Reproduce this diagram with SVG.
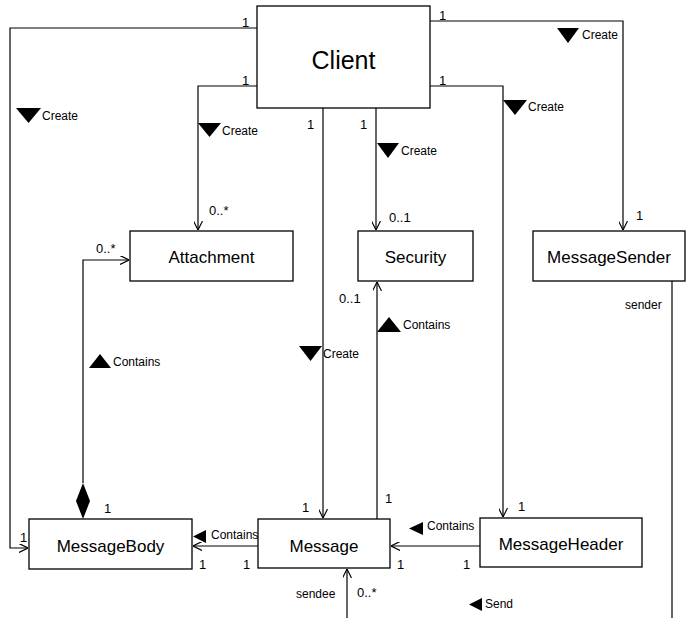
<svg xmlns="http://www.w3.org/2000/svg" width="687" height="618" viewBox="0 0 687 618">
<style>
.box{fill:#fff;stroke:#000;stroke-width:1.3}
.ln{fill:none;stroke:#000;stroke-width:1.2}
.cls{font-family:"Liberation Sans",Arial,sans-serif;font-size:17px;text-anchor:middle;fill:#000}
.t{font-family:"Liberation Sans",Arial,sans-serif;font-size:12px;fill:#000}
.m{font-family:"Liberation Sans",Arial,sans-serif;font-size:13px;fill:#000}
</style>
<defs>
<marker id="open" viewBox="0 0 10 10" refX="10" refY="5" markerWidth="9" markerHeight="9" markerUnits="userSpaceOnUse" orient="auto">
<path d="M0,0 L10,5 L0,10" fill="none" stroke="#000" stroke-width="1.3"/>
</marker>
</defs>
<g id="connectors">
<path class="ln" d="M257,28 H10 V548 H28" marker-end="url(#open)"/>
<path class="ln" d="M257,86 H198 V230" marker-end="url(#open)"/>
<path class="ln" d="M430,21 H623 V230" marker-end="url(#open)"/>
<path class="ln" d="M430,86 H503 V517" marker-end="url(#open)"/>
<path class="ln" d="M323,108 V518" marker-end="url(#open)"/>
<path class="ln" d="M376,108 V230" marker-end="url(#open)"/>
<path class="ln" d="M377,519 V282" marker-end="url(#open)"/>
<path class="ln" d="M83,483 V260 H129" marker-end="url(#open)"/>
<path d="M83,483 L90,501 L83,519 L76,501 Z" fill="#000"/>
<path class="ln" d="M258,546 H193" marker-end="url(#open)"/>
<path class="ln" d="M480,546 H391" marker-end="url(#open)"/>
<path class="ln" d="M672,281 V618"/>
<path class="ln" d="M347,618 V569" marker-end="url(#open)"/>
<!-- role triangles -->
<path d="M16,108 L41,108 L28.5,123 Z" fill="#000"/>
<path d="M198,123 L221,123 L209.5,137 Z" fill="#000"/>
<path d="M377,143 L399,143 L388,158 Z" fill="#000"/>
<path d="M557,28 L579,28 L568,43 Z" fill="#000"/>
<path d="M503,100 L527,100 L515,115 Z" fill="#000"/>
<path d="M299,346 L322,346 L310.5,361 Z" fill="#000"/>
<path d="M89,368 L111,368 L100,354 Z" fill="#000"/>
<path d="M377,332 L401,332 L389,317 Z" fill="#000"/>
<path d="M206,530 L206,543 L193,536.5 Z" fill="#000"/>
<path d="M423,522 L423,535 L409,528.5 Z" fill="#000"/>
<path d="M482,598 L482,611 L469,604.5 Z" fill="#000"/>
</g>
<g id="labels">
<text class="t" x="42" y="120">Create</text>
<text class="t" x="222" y="135">Create</text>
<text class="t" x="401" y="155">Create</text>
<text class="t" x="582" y="39">Create</text>
<text class="t" x="528" y="111">Create</text>
<text class="t" x="323" y="358">Create</text>
<text class="t" x="113" y="366">Contains</text>
<text class="t" x="403" y="329">Contains</text>
<text class="t" x="211" y="539">Contains</text>
<text class="t" x="427" y="530">Contains</text>
<text class="t" x="485" y="608">Send</text>
<text class="t" x="625" y="309">sender</text>
<text class="t" x="296" y="598">sendee</text>
<text class="m" x="242" y="27">1</text>
<text class="m" x="242" y="85">1</text>
<text class="m" x="439" y="20">1</text>
<text class="m" x="439" y="85">1</text>
<text class="m" x="307" y="129">1</text>
<text class="m" x="360" y="129">1</text>
<text class="m" x="209" y="215">0..*</text>
<text class="m" x="96" y="253">0..*</text>
<text class="m" x="389" y="222">0..1</text>
<text class="m" x="339" y="303">0..1</text>
<text class="m" x="636" y="220">1</text>
<text class="m" x="104" y="513">1</text>
<text class="m" x="20" y="542">1</text>
<text class="m" x="302" y="512">1</text>
<text class="m" x="199" y="569">1</text>
<text class="m" x="243" y="569">1</text>
<text class="m" x="385" y="503">1</text>
<text class="m" x="518" y="511">1</text>
<text class="m" x="397" y="569">1</text>
<text class="m" x="463" y="569">1</text>
<text class="m" x="357" y="597">0..*</text>
</g>
<g id="Client">
<rect class="box" x="257" y="6" width="173" height="102"/>
<text class="cls" x="343.5" y="69" style="font-size:25px">Client</text>
</g>
<g id="Attachment">
<rect class="box" x="130" y="231" width="163" height="50"/>
<text class="cls" x="211.5" y="263">Attachment</text>
</g>
<g id="Security">
<rect class="box" x="358" y="231" width="115" height="50"/>
<text class="cls" x="415.5" y="263">Security</text>
</g>
<g id="MessageSender">
<rect class="box" x="533" y="231" width="152" height="50"/>
<text class="cls" x="609" y="263">MessageSender</text>
</g>
<g id="MessageBody">
<rect class="box" x="29" y="519" width="163" height="50"/>
<text class="cls" x="110.5" y="552">MessageBody</text>
</g>
<g id="Message">
<rect class="box" x="258" y="519" width="132" height="49"/>
<text class="cls" x="324" y="552">Message</text>
</g>
<g id="MessageHeader">
<rect class="box" x="480" y="518" width="162" height="49"/>
<text class="cls" x="561" y="550">MessageHeader</text>
</g>
</svg>
